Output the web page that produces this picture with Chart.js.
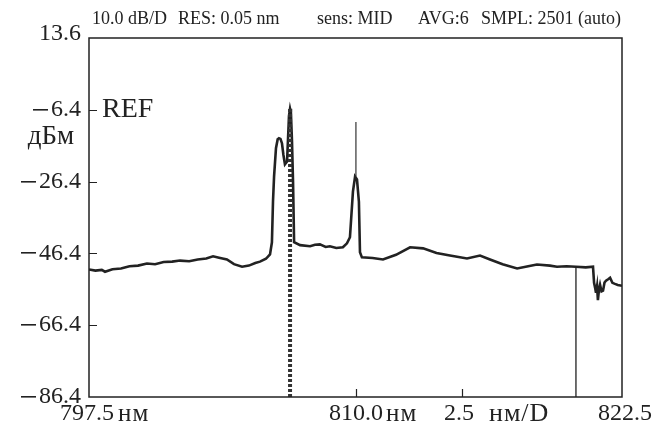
<!DOCTYPE html>
<html>
<head>
<meta charset="utf-8">
<script src="https://cdn.jsdelivr.net/npm/chart.js@4.4.0/dist/chart.umd.min.js"></script>
<style>
  html, body { margin: 0; padding: 0; background: #fff; }
  #wrap { width: 666px; height: 424px; }
</style>
</head>
<body>
<div id="wrap"><canvas id="chart" width="666" height="424"></canvas></div>
<script>
// spectrum trace (nm, dBm)
const wavelength = [
  797.50, 797.80, 798.10, 798.25, 798.60, 799.00, 799.40, 799.80, 800.22, 800.60,
  801.00, 801.40, 801.77, 802.20, 802.60, 803.00, 803.32, 803.60, 803.97, 804.30,
  804.68, 805.00, 805.30, 805.52, 805.80, 805.99, 806.08, 806.13, 806.18, 806.27,
  806.35, 806.41, 806.48, 806.55, 806.62, 806.69, 806.79, 806.88, 806.93, 806.97,
  807.02, 807.07, 807.12, 807.40, 807.87, 808.10, 808.33, 808.60, 808.80, 809.10,
  809.41, 809.60, 809.74, 809.88, 809.98, 810.07, 810.16, 810.21, 810.30, 810.80,
  811.29, 811.90, 812.56, 813.17, 813.80, 814.43, 815.23, 815.84, 816.31, 816.90,
  817.58, 818.10, 818.51, 819.12, 819.45, 819.90, 820.34, 820.80, 821.14, 821.19,
  821.24, 821.28, 821.33, 821.37, 821.42, 821.47, 821.54, 821.61, 821.68, 821.75,
  821.85, 821.94, 822.05, 822.17, 822.30, 822.50
];
const power = [
  -50.9, -51.2, -51.0, -51.5, -50.8, -50.6, -50.0, -49.8, -49.2, -49.4,
  -48.8, -48.7, -48.4, -48.6, -48.1, -47.8, -47.2, -47.6, -48.1, -49.4,
  -50.1, -49.8, -49.1, -48.7, -47.9, -46.7, -43.3, -32.0, -25.0, -17.1,
  -14.6, -14.3, -14.5, -15.7, -19.0, -21.6, -20.8, -8.1, -6.1, -7.2,
  -15.0, -26.4, -43.3, -44.1, -44.4, -44.0, -43.9, -44.6, -44.4, -44.9,
  -44.7, -43.6, -41.9, -29.2, -25.0, -25.8, -32.0, -46.1, -47.5, -47.7,
  -48.1, -46.8, -44.7, -45.0, -46.3, -47.0, -47.8, -47.0, -48.1, -49.4,
  -50.6, -50.0, -49.5, -49.8, -50.1, -50.0, -50.1, -50.3, -50.1, -54.6,
  -56.0, -57.4, -55.5, -59.4, -56.5, -55.1, -57.0, -56.8, -54.5, -54.0,
  -53.6, -53.2, -54.6, -54.9, -55.2, -55.4
];

// narrow spike on the 810 nm line
const spikeX = [810.02, 810.02];
const spikeY = [-25.0, -9.8];
// dotted marker under the main peak
const dottedX = [806.93, 806.93];
const dottedY = [-86.4, -6.1];
// solid marker near the right edge
const markerX = [820.34, 820.34];
const markerY = [-50.1, -86.4];

const yTicks = [13.6, -6.4, -26.4, -46.4, -66.4, -86.4];
const yTickLabels = ["13.6", "6.4", "26.4", "46.4", "66.4", "86.4"];
const yTickMarks = [-6.4, -26.4, -46.4, -66.4];
const xTickMarks = [810.0, 815.0];
const header = ["10.0 dB/D", "RES: 0.05 nm", "sens: MID", "AVG:6", "SMPL: 2501 (auto)"];

const pts = (xs, ys) => xs.map((x, i) => ({x: x, y: ys[i]}));

const SERIF = '"Liberation Serif", "DejaVu Serif", serif';
const INK = "#222";

// frame, ticks and all the text are drawn here
const decor = {
    id: "decor",
    afterDraw(chart) {
        const ctx = chart.ctx;
        const a = chart.chartArea;
        const xs = chart.scales.x, ys = chart.scales.y;
        ctx.save();
        ctx.strokeStyle = INK;
        ctx.lineWidth = 1.5;
        ctx.strokeRect(a.left, a.top, a.right - a.left, a.bottom - a.top);

        ctx.lineWidth = 1.2;
        ctx.beginPath();
        yTickMarks.forEach((v) => {
            const y = Math.round(ys.getPixelForValue(v)) + 0.5;
            ctx.moveTo(a.left, y);
            ctx.lineTo(a.left + 8, y);
        });
        xTickMarks.forEach((v) => {
            const x = Math.round(xs.getPixelForValue(v)) + 0.5;
            ctx.moveTo(x, a.bottom);
            ctx.lineTo(x, a.bottom - 8);
        });
        ctx.stroke();

        ctx.fillStyle = INK;
        // header line
        ctx.font = "18px " + SERIF;
        ctx.textBaseline = "alphabetic";
        ctx.textAlign = "left";
        const hx = [92, 178, 317, 418, 481];
        header.forEach((t, i) => ctx.fillText(t, hx[i], 24));

        // y labels, the long minus is drawn as its own stroke
        ctx.textAlign = "right";
        ctx.textBaseline = "middle";
        yTicks.forEach((v, i) => {
            let y = ys.getPixelForValue(v);
            if (i === 0) y -= 4;
            ctx.font = "24px " + SERIF;
            const right = a.left - 8;
            ctx.fillText(yTickLabels[i], right, y);
            if (v < 0) {
                const w = ctx.measureText(yTickLabels[i]).width;
                ctx.fillRect(right - w - 18, Math.round(y) - 1, 15, 1.6);
            }
        });
        ctx.font = "27px " + SERIF;
        ctx.textAlign = "center";
        ctx.fillText("\u0434\u0411\u043c", 51, ys.getPixelForValue(-6.4) + 27);

        ctx.font = "28px " + SERIF;
        ctx.textAlign = "left";
        ctx.fillText("REF", a.left + 13, ys.getPixelForValue(-6.4));

        // x labels
        const by = a.bottom + 17;
        const piece = (txt, x, f, sp) => {
            ctx.font = f + "px " + SERIF;
            ctx.letterSpacing = (sp || 0) + "px";
            ctx.fillText(txt, x, by);
            const end = x + ctx.measureText(txt).width;
            ctx.letterSpacing = "0px";
            return end;
        };
        let x = piece("797.5", 60, 24);
        piece("\u043d\u043c", x + 4, 25, 1);
        x = piece("810.0", 329, 24);
        piece("\u043d\u043c", x + 3, 25, 1);
        piece("2.5", 444, 24);
        piece("\u043d\u043c/D", 489, 26, 1);
        piece("822.5", 598, 24);
        ctx.restore();
    }
};

new Chart(document.getElementById("chart"), {
    type: "scatter",
    data: {
        datasets: [
            {
                data: pts(dottedX, dottedY),
                showLine: true,
                borderColor: "#333",
                borderWidth: 4,
                borderDash: [3, 2],
                pointRadius: 0,
            },
            {
                data: pts(markerX, markerY),
                showLine: true,
                borderColor: INK,
                borderWidth: 1.3,
                pointRadius: 0,
            },
            {
                data: pts(spikeX, spikeY),
                showLine: true,
                borderColor: "#333",
                borderWidth: 1.2,
                pointRadius: 0,
            },
            {
                data: pts(wavelength, power),
                showLine: true,
                borderColor: INK,
                borderWidth: 2.6,
                pointRadius: 0,
                tension: 0,
            },
        ],
    },
    options: {
        responsive: false,
        animation: false,
        events: [],
        layout: {padding: {left: 89, right: 44, top: 38, bottom: 27}},
        plugins: {legend: {display: false}, tooltip: {enabled: false}},
        scales: {
            x: {type: "linear", min: 797.5, max: 822.5, display: false},
            y: {type: "linear", min: -86.4, max: 13.6, display: false},
        },
    },
    plugins: [decor],
});
</script>
</body>
</html>
